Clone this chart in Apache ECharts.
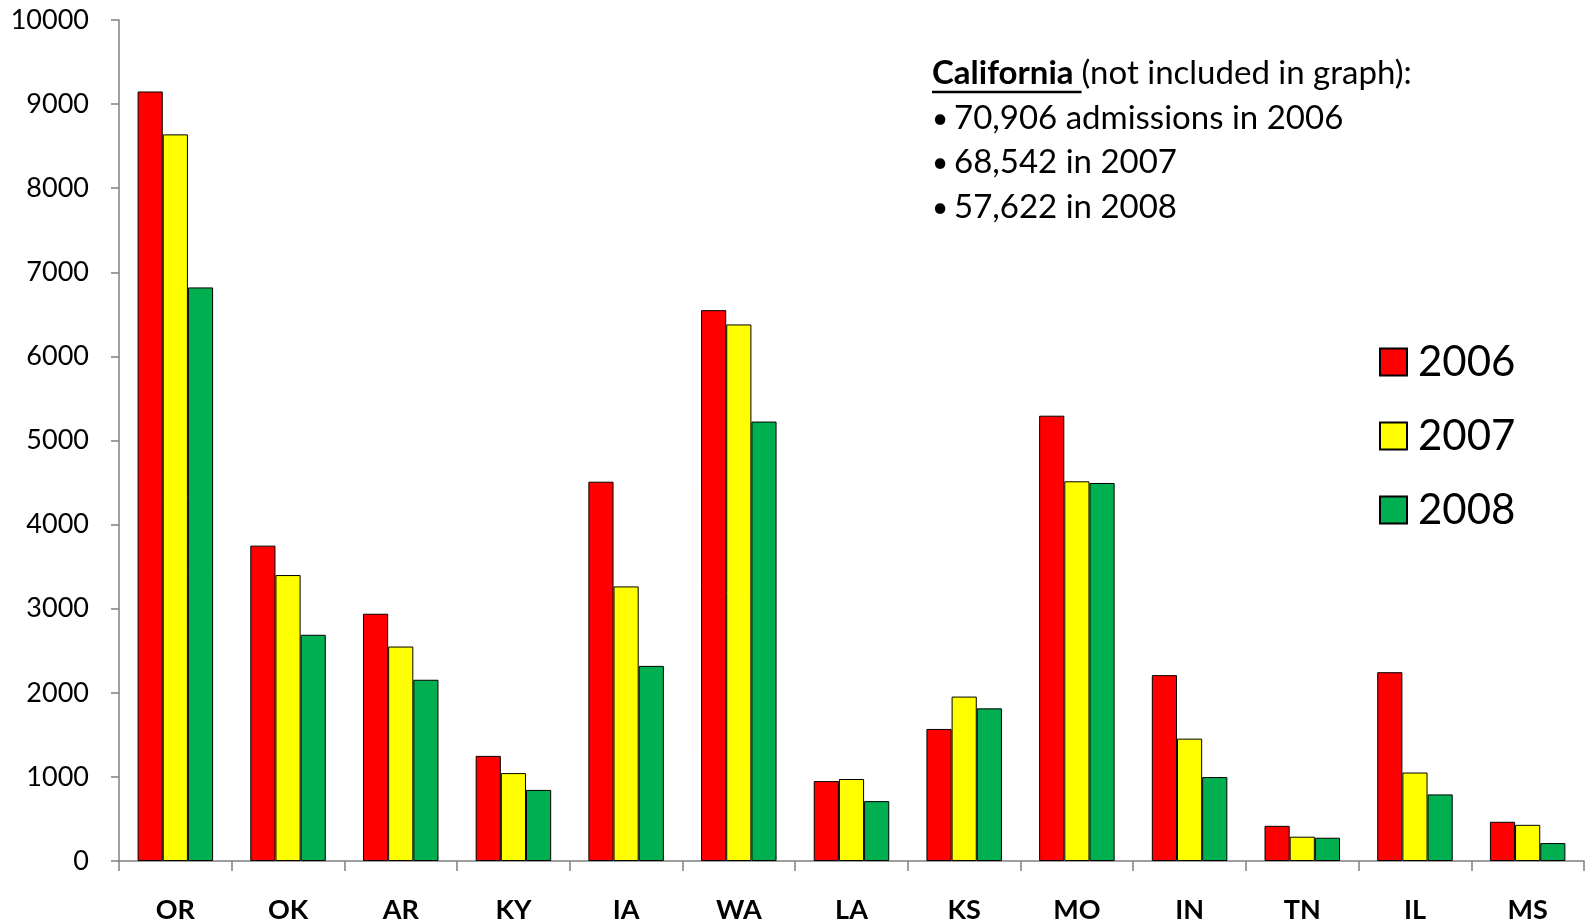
<!DOCTYPE html>
<html><head><meta charset="utf-8">
<script src="https://cdn.jsdelivr.net/npm/echarts@6/dist/echarts.min.js"></script>
<style>html,body{margin:0;padding:0;background:#fff}#c{width:1585px;height:924px}</style>
</head><body><div id="c"></div>
<script>
const categories = ['OR','OK','AR','KY','IA','WA','LA','KS','MO','IN','TN','IL','MS'];
const years = ['2006','2007','2008'];
const v2006 = [9150, 3750, 2940, 1250, 4510, 6550, 950, 1570, 5295, 2210, 418, 2245, 466];
const v2007 = [8640, 3400, 2550, 1045, 3265, 6380, 975, 1955, 4515, 1455, 289, 1052, 430];
const v2008 = [6820, 2690, 2155, 845, 2320, 5225, 712, 1815, 4495, 998, 277, 792, 213];
const colors = ['#FF0000', '#FFFF00', '#00B050'];
const yTicks = { min: 0, max: 10000, interval: 1000 };
const noteTitle = 'California ';
const noteRest = '(not included in graph):';
const noteLines = ['70,906 admissions in 2006', '68,542 in 2007', '57,622 in 2008'];

const FONT = 'Lato';
const chart = echarts.init(document.getElementById('c'));

const NF = 33;
const cv = document.createElement('canvas').getContext('2d');
cv.font = 'bold ' + NF + 'px ' + FONT;
const titleW = cv.measureText(noteTitle).width;

const noteX = 932, noteY0 = 76, lineStep = 44.5;
const graphic = [
  { type: 'text', left: noteX, top: noteY0 - 19, style: { text: noteTitle, font: 'bold ' + NF + 'px ' + FONT, fill: '#000' } },
  { type: 'text', left: noteX + titleW, top: noteY0 - 19, style: { text: noteRest, font: NF + 'px ' + FONT, fill: '#000' } },
  { type: 'line', shape: { x1: noteX, y1: noteY0 + 16, x2: noteX + titleW, y2: noteY0 + 16 }, style: { stroke: '#000', lineWidth: 2.5 } }
];
noteLines.forEach((t, i) => {
  const y = noteY0 + lineStep * (i + 1) - 19;
  graphic.push({ type: 'text', left: noteX, top: y + 3, style: { text: '•', font: '28px ' + FONT, fill: '#000' } });
  graphic.push({ type: 'text', left: noteX + 22, top: y, style: { text: t, font: NF + 'px ' + FONT, fill: '#000' } });
});

const mk = (name, data, color) => ({
  name, type: 'bar', data, barGap: '0%', barCategoryGap: '33%',
  itemStyle: { color, borderColor: '#000', borderWidth: 1 },
  emphasis: { disabled: true }
});

chart.setOption({
  animation: false,
  grid: { left: 119, right: 1, top: 20, bottom: 62, containLabel: false },
  legend: {
    orient: 'vertical', left: 1374, top: 336,
    itemWidth: 27, itemHeight: 27, itemGap: 32, icon: 'rect',
    textStyle: { fontFamily: FONT, fontSize: 42, color: '#000', lineHeight: 40, padding: [0, 0, 0, 6] },
    data: years
  },
  xAxis: {
    type: 'category', data: categories,
    axisLine: { lineStyle: { color: '#808080', width: 1.5 } },
    axisTick: { show: true, length: 10, lineStyle: { color: '#808080', width: 1.5 } },
    axisLabel: { fontFamily: FONT, fontSize: 27, fontWeight: 'bold', color: '#000', margin: 36 }
  },
  yAxis: {
    type: 'value', min: yTicks.min, max: yTicks.max, interval: yTicks.interval,
    splitLine: { show: false },
    axisLine: { show: true, lineStyle: { color: '#808080', width: 1.5 } },
    axisTick: { show: true, length: 8, lineStyle: { color: '#808080', width: 1.5 } },
    axisLabel: { fontFamily: FONT, fontSize: 27, color: '#000', margin: 30, formatter: v => String(v) }
  },
  series: [mk(years[0], v2006, colors[0]), mk(years[1], v2007, colors[1]), mk(years[2], v2008, colors[2])],
  graphic
});
</script></body></html>
